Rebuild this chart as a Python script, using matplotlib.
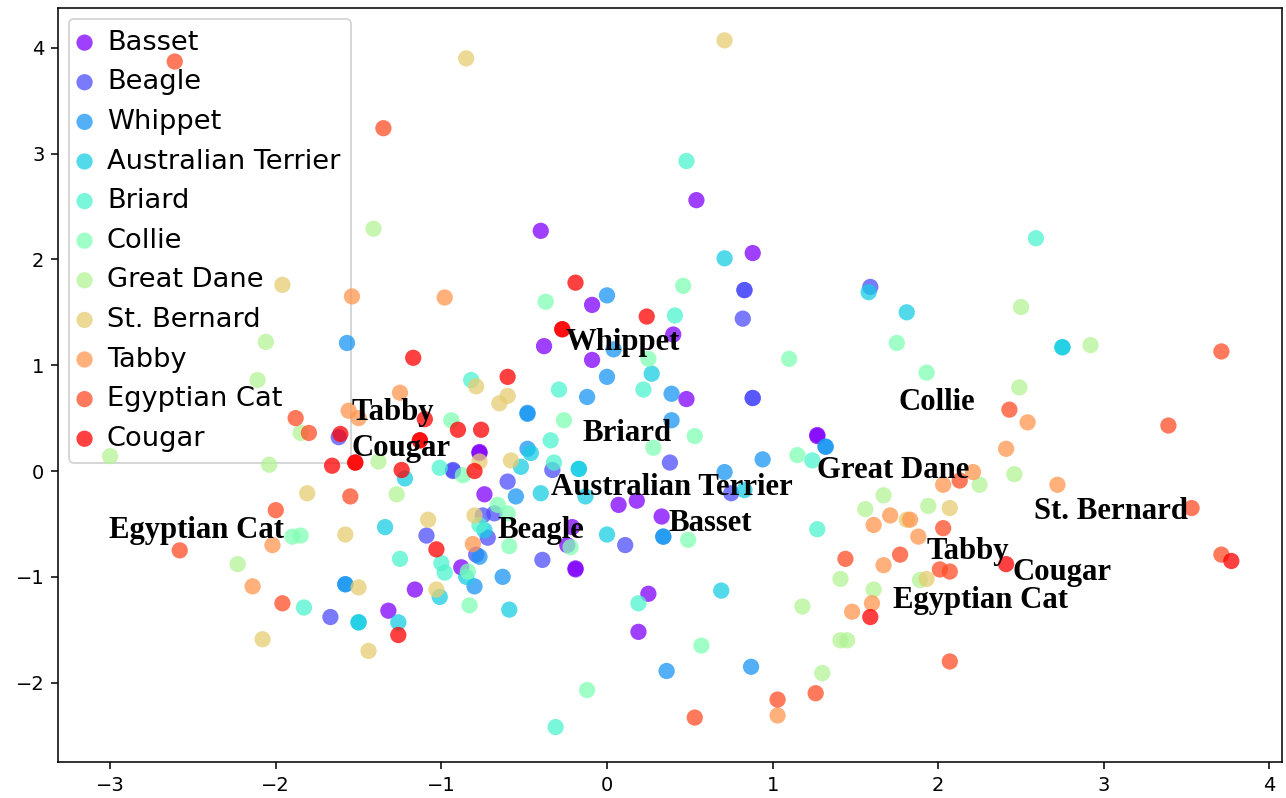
"""Scatter of embedded breed features with class centroid labels."""

import numpy as np
import matplotlib
matplotlib.use('Agg')
import matplotlib.pyplot as plt


CLASSES = ['Basset', 'Beagle', 'Whippet', 'Australian Terrier', 'Briard', 'Collie',
           'Great Dane', 'St. Bernard', 'Tabby', 'Egyptian Cat', 'Cougar']

basset = [(0.54, 2.56), (-0.40, 2.27), (0.88, 2.06), (-0.09, 1.57), (0.40, 1.29), (-0.38, 1.18),
          (-0.09, 1.05), (0.48, 0.68), (1.27, 0.34), (1.27, 0.33), (-0.77, 0.18), (-0.77, 0.17),
          (-0.74, -0.22), (0.07, -0.32), (0.18, -0.28), (0.33, -0.43), (-0.88, -0.91), (-1.16, -1.12),
          (-1.32, -1.32), (-0.21, -0.53), (-0.24, -0.70), (-0.19, -0.93), (-0.19, -0.92), (0.25, -1.16),
          (0.19, -1.52)]
beagle = [(0.83, 1.71), (0.83, 1.71), (0.82, 1.44), (0.88, 0.69), (0.88, 0.69), (1.59, 1.74),
          (-1.62, 0.32), (0.38, 0.08), (-0.93, 0.0), (-0.93, 0.01), (-0.33, 0.01), (-0.60, -0.10),
          (0.75, -0.21), (-0.75, -0.42), (-0.68, -0.40), (-0.72, -0.63), (-1.09, -0.61), (-0.79, -0.79),
          (-0.39, -0.84), (0.11, -0.70), (-1.67, -1.38)]
whippet = [(-1.57, 1.21), (0.0, 1.66), (0.04, 1.15), (0.0, 0.89), (-0.12, 0.70), (0.39, 0.73),
           (-0.48, 0.54), (-0.48, 0.55), (0.39, 0.48), (-0.48, 0.21), (-0.55, -0.24), (0.71, -0.01),
           (0.94, 0.11), (1.32, 0.23), (1.32, 0.23), (0.34, -0.62), (0.34, -0.62), (-0.77, -0.81),
           (-0.80, -1.09), (-0.63, -1.00), (-1.58, -1.07), (-1.58, -1.07), (0.36, -1.89), (0.87, -1.85)]
aus_terrier = [(0.71, 2.01), (1.81, 1.50), (1.58, 1.69), (2.75, 1.17), (2.75, 1.17), (0.27, 0.92),
               (-0.46, 0.17), (-0.52, 0.04), (-0.17, 0.02), (-0.17, 0.02), (-1.22, -0.07), (-0.40, -0.21),
               (-0.13, -0.24), (0.83, -0.18), (-1.34, -0.53), (-0.74, -0.56), (0.0, -0.60), (-0.85, -1.00),
               (-1.01, -1.19), (-0.59, -1.31), (-1.26, -1.43), (-1.50, -1.43), (-1.50, -1.43), (0.69, -1.13)]
briard = [(0.48, 2.93), (2.59, 2.20), (0.41, 1.47), (-0.82, 0.86), (-0.29, 0.77), (0.22, 0.77),
          (-0.34, 0.29), (-0.32, 0.08), (-1.01, 0.03), (1.24, 0.10), (1.27, -0.55), (-0.77, -0.51),
          (-1.25, -0.83), (-1.00, -0.87), (-0.98, -0.96), (-1.83, -1.29), (0.19, -1.25), (-0.31, -2.42)]
collie = [(-0.37, 1.60), (0.46, 1.75), (0.25, 1.06), (-0.26, 0.48), (-0.94, 0.48), (0.28, 0.22),
          (-0.87, -0.04), (-0.66, -0.32), (-0.60, -0.40), (-0.59, -0.71), (-0.22, -0.72), (-0.84, -0.95),
          (-0.83, -1.27), (-1.90, -0.62), (-1.85, -0.61), (1.10, 1.06), (1.75, 1.21), (1.93, 0.93),
          (0.53, 0.33), (1.15, 0.15), (0.57, -1.65), (-0.12, -2.07), (0.49, -0.65)]
great_dane = [(-1.41, 2.29), (-2.06, 1.22), (-2.11, 0.86), (-1.85, 0.36), (-3.0, 0.14), (-2.04, 0.06),
              (-1.38, 0.09), (-1.27, -0.22), (-2.23, -0.88), (2.50, 1.55), (2.92, 1.19), (2.49, 0.79),
              (2.46, -0.03), (2.25, -0.13), (1.67, -0.23), (1.56, -0.36), (1.94, -0.33), (1.89, -1.03),
              (1.41, -1.02), (1.61, -1.12), (1.18, -1.28), (1.41, -1.60), (1.45, -1.60), (1.30, -1.91)]
st_bernard = [(0.71, 4.07), (-0.85, 3.90), (-1.96, 1.76), (-0.79, 0.80), (-0.60, 0.71), (-0.65, 0.64),
              (-0.77, 0.09), (-0.58, 0.10), (-1.81, -0.21), (-1.08, -0.46), (-0.80, -0.42), (-1.58, -0.60),
              (-1.03, -1.12), (-1.50, -1.10), (-2.08, -1.59), (-1.44, -1.70), (2.07, -0.35), (1.81, -0.46),
              (1.93, -1.02)]
tabby = [(-1.54, 1.65), (-0.98, 1.64), (-1.25, 0.74), (-1.56, 0.57), (-1.50, 0.50), (-2.02, -0.70),
         (-2.14, -1.09), (-0.81, -0.69), (2.21, -0.01), (2.03, -0.13), (2.54, 0.46), (2.41, 0.21),
         (2.72, -0.13), (1.71, -0.42), (1.83, -0.46), (1.61, -0.51), (1.88, -0.62), (1.67, -0.89),
         (1.60, -1.25), (1.48, -1.33), (1.03, -2.31)]
egyptian_cat = [(-2.61, 3.87), (-1.35, 3.24), (-1.88, 0.50), (-1.80, 0.36), (-1.55, -0.24), (-2.00, -0.37),
                (-2.58, -0.75), (-1.96, -1.25), (2.13, -0.09), (2.43, 0.58), (2.03, -0.54), (1.44, -0.83),
                (1.77, -0.79), (2.01, -0.93), (2.07, -0.95), (2.07, -1.80), (1.26, -2.10), (1.03, -2.16),
                (0.53, -2.33), (3.71, 1.13), (3.39, 0.43), (3.53, -0.35), (3.71, -0.79)]
cougar = [(-0.19, 1.78), (0.24, 1.46), (-0.27, 1.34), (-0.27, 1.34), (-1.17, 1.07), (-0.60, 0.89),
          (-1.10, 0.49), (-0.90, 0.39), (-0.76, 0.39), (-1.13, 0.29), (-1.13, 0.29), (-1.61, 0.35),
          (-1.66, 0.05), (-1.52, 0.08), (-1.52, 0.08), (-1.24, 0.01), (-0.80, 0.00), (-1.03, -0.74),
          (-1.26, -1.55), (2.41, -0.88), (1.59, -1.38), (3.77, -0.85)]

POINTS = [basset, beagle, whippet, aus_terrier, briard, collie,
          great_dane, st_bernard, tabby, egyptian_cat, cougar]

# label text, x (left edge), y (baseline)
LABELS = [
    ('Whippet', -0.25, 1.14), ('Tabby', -1.54, 0.48), ('Cougar', -1.54, 0.14),
    ('Briard', -0.145, 0.28), ('Australian Terrier', -0.34, -0.23), ('Beagle', -0.66, -0.63),
    ('Basset', 0.37, -0.57), ('Egyptian Cat', -3.01, -0.63), ('Collie', 1.76, 0.58),
    ('Great Dane', 1.27, -0.07), ('St. Bernard', 2.58, -0.45), ('Tabby', 1.93, -0.83),
    ('Cougar', 2.45, -1.03), ('Egyptian Cat', 1.73, -1.29),
]


def main():
    colors = plt.cm.rainbow(np.linspace(0, 1, len(CLASSES)))
    fig = plt.figure(figsize=(1286 / 140, 798 / 140), dpi=140)
    ax = fig.add_axes([58 / 1286, 1 - 762 / 798, (1282 - 58) / 1286, (762 - 8) / 798])

    for name, pts, color in zip(CLASSES, POINTS, colors):
        arr = np.array(pts)
        ax.scatter(arr[:, 0], arr[:, 1], s=70, color=color, alpha=0.75,
                   edgecolors='none', label=name, zorder=6)

    for text, x, y in LABELS:
        ax.text(x, y, text, fontsize=15.8, fontweight='bold', family='Liberation Serif',
                ha='left', va='baseline', zorder=7)

    ax.set_xlim(-3.315, 4.076)
    ax.set_ylim(-2.75, 4.376)
    leg = ax.legend(loc='upper left', fontsize=14, handlelength=0.35, handletextpad=0.65,
                    borderaxespad=0.4)
    leg.set_zorder(1)

    fig.savefig('out.png', dpi=140)
    plt.close(fig)


if __name__ == '__main__':
    main()
